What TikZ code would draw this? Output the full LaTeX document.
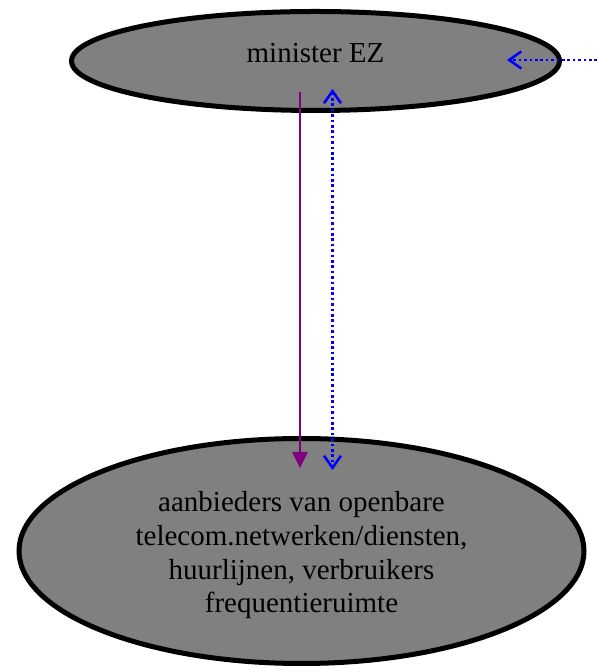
\documentclass[tikz,border=0pt]{standalone}
\usepackage{fontspec}
\setmainfont{Liberation Serif}
\usetikzlibrary{arrows.meta, positioning, shapes, shapes.geometric}
\usepackage{xcolor}
\definecolor{nodegray}{HTML}{808080}
\definecolor{flowpurple}{HTML}{800080}
\definecolor{flowblue}{HTML}{0000FF}

\tikzset{
  actor/.style={ellipse, draw=black, fill=nodegray, line width=5pt,
                inner sep=0pt, align=center, font=\fontsize{29}{33.7}\selectfont},
  barb/.tip={Straight Barb[length=12pt, width=17pt]},
  order/.style={draw=flowpurple, line width=2.6pt, -{Triangle[length=16pt, width=15pt]}},
  info/.style={draw=flowblue, line width=2.6pt, dash pattern=on 2.7pt off 2.7pt}
}

\begin{document}
\begin{tikzpicture}[x=1pt, y=1pt]
        \useasboundingbox (0,0) rectangle (597,671);
        \node[actor, minimum width=488pt, minimum height=99pt, text depth=16pt]
          (minister) at (315.5,610) {minister EZ};
        \node[actor, minimum width=565pt, minimum height=225pt, text height=130pt]
          (aanbieders) at (301.5,120) {
          aanbieders van openbare\\
          telecom.netwerken/diensten,\\
          huurlijnen, verbruikers\\
          frequentieruimte
        };
        \coordinate (extern) at (597,611);
        \draw[order] ([xshift=-15.5pt, yshift=-31pt]minister.center) -- ([xshift=-1.5pt, yshift=83pt]aanbieders.center);
        \draw[info, barb-barb] ([xshift=17pt, yshift=-28pt]minister.center) -- ([xshift=31pt, yshift=81pt]aanbieders.center);
        \draw[info, -barb] (extern) -- ([xshift=191.5pt, yshift=1pt]minister.center);
      \end{tikzpicture}
\end{document}
